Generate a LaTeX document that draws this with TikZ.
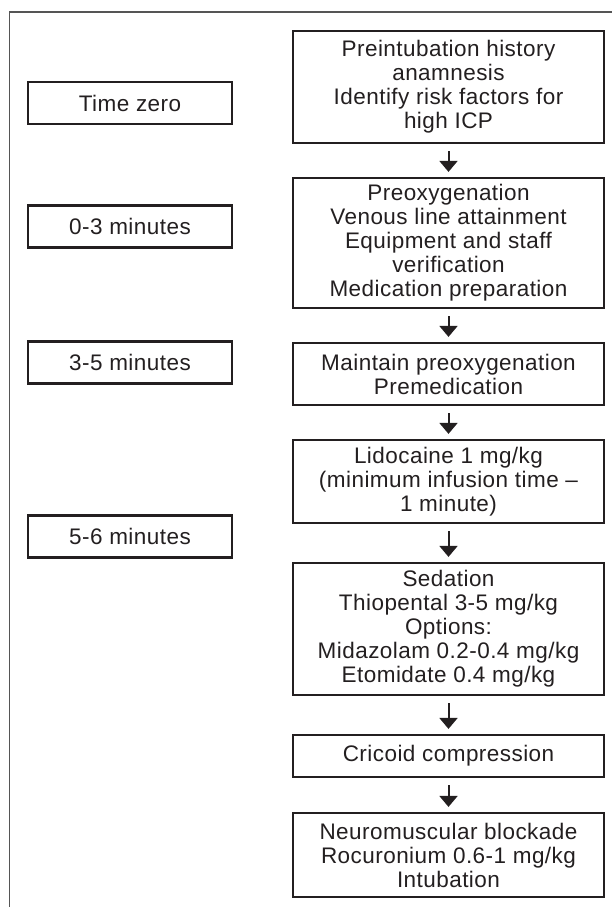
\documentclass[tikz,border=0pt]{standalone}
\usepackage{fontspec}
\setmainfont{Liberation Sans}[LetterSpace=2]
\usetikzlibrary{arrows.meta}
\definecolor{ink}{RGB}{35,31,32}
\definecolor{framegray}{RGB}{85,85,85}

\begin{document}
\begin{tikzpicture}[x=1pt,y=-1pt,
    stepbox/.style={draw=ink,line width=2.2pt,inner sep=0pt,minimum width=311pt,align=center,text=ink,font=\fontsize{22.5}{24}\selectfont},
    timebox/.style={draw=ink,line width=2.2pt,inner sep=0pt,minimum width=204pt,minimum height=42pt,text=ink,font=\fontsize{22.5}{24}\selectfont},
    flow/.style={-{Triangle[width=18pt,length=11pt]},line width=2pt,draw=ink,shorten <=7pt,shorten >=5pt}]
    \useasboundingbox (0,0) rectangle (612,907);
    % outer frame, open to the right and below
    \draw[framegray,line width=1.2pt] (612,12)--(9.5,12)--(9.5,907);
    % steps
    \node[stepbox,minimum height=112pt] (hist) at (448.5,87) {Preintubation history\\anamnesis\\Identify risk factors for\\high ICP};
    \node[stepbox,minimum height=130pt] (preox) at (448.5,243) {Preoxygenation\\Venous line attainment\\Equipment and staff\\verification\\Medication preparation};
    \node[stepbox,minimum height=62pt] (premed) at (448.5,374) {Maintain preoxygenation\\Premedication};
    \node[stepbox,minimum height=83pt] (lido) at (448.5,481.5) {Lidocaine 1 mg/kg\\(minimum infusion time –\\1 minute)};
    \node[stepbox,minimum height=132pt] (sed) at (448.5,629) {Sedation\\Thiopental 3-5 mg/kg\\Options:\\Midazolam 0.2-0.4 mg/kg\\Etomidate 0.4 mg/kg};
    \node[stepbox,minimum height=42pt] (cric) at (448.5,756) {Cricoid compression};
    \node[stepbox,minimum height=84pt] (block) at (448.5,855) {Neuromuscular blockade\\Rocuronium 0.6-1 mg/kg\\Intubation};
    % times
    \node[timebox] (tzero) at (130,103) {Time zero};
    \node[timebox] (tthree) at (130,226.5) {0-3 minutes};
    \node[timebox] (tfive) at (130,362.5) {3-5 minutes};
    \node[timebox] (tsix) at (130,536.5) {5-6 minutes};
    \foreach \a/\b in {hist/preox,preox/premed,premed/lido,lido/sed,sed/cric,cric/block}
        \draw[flow] (\a)--(\b);
\end{tikzpicture}
\end{document}
